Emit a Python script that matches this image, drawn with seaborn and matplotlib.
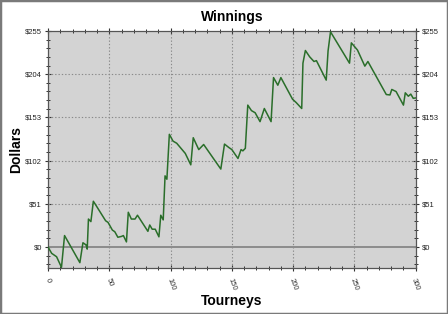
import matplotlib
matplotlib.use("Agg")
import matplotlib.pyplot as plt
from matplotlib.ticker import MultipleLocator, FixedLocator
from matplotlib.patches import Rectangle
import seaborn as sns
import pandas as pd

# ---- data ----
tourneys = [0, 3, 5, 7, 11, 13.5, 26, 28.5, 31, 32, 33, 35, 37, 39, 47, 49, 52.5,
            54.5, 57, 60, 61.5, 64, 65.5, 68, 71, 73, 81.5, 83, 85, 87.5, 90.5, 92,
            94, 95.5, 97, 99, 102, 105, 112, 116.5, 118.5, 123, 127, 141, 144,
            147.5, 150, 155, 157.5, 159, 161, 163, 166, 169, 173, 176.5, 182, 184,
            187.5, 190, 199.5, 202.5, 207, 208, 210, 213.5, 217, 219, 227, 228.5,
            230.5, 246, 247.5, 252.5, 258.5, 261, 276, 279, 280.5, 284, 290, 291.5,
            294, 296, 298, 300]
dollars = [0, -7.5, -9.5, -11.5, -24, 13.5, -18.5, 5, 2.5, -2.5, 33, 30, 54, 49.5,
           31, 29, 20, 18, 11.5, 12.5, 13.5, 6, 41, 33, 33, 37.5, 18.5, 26, 21, 21,
           12, 37.5, 32, 84, 80, 133, 125, 122.5, 110.5, 97, 129, 115, 121, 92,
           121.5, 117.5, 115, 104.5, 115, 113.5, 116.5, 167.5, 161, 158.5, 148,
           163.5, 148, 200, 191, 200, 174.5, 170.5, 163.5, 217, 232, 224.5, 219,
           220, 197, 231.5, 254, 217, 241, 232.5, 213.5, 219, 180, 179.5, 186,
           183.5, 167.5, 182, 178, 180.5, 175.5, 176]
x_ticks = [0, 50, 100, 150, 200, 250, 300]
y_ticks = [0, 51, 102, 153, 204, 255]
y_tick_labels = ["$0", "$51", "$102", "$153", "$204", "$255"]

df = pd.DataFrame({"Tourneys": tourneys, "Dollars": dollars})

sns.set_style("white")
plt.rcParams["font.family"] = ["Liberation Sans", "DejaVu Sans"]

fig = plt.figure(figsize=(4.48, 3.14), dpi=100)
fig.patch.set_facecolor("white")
ax = fig.add_axes([48 / 448, 1 - 268 / 314, (415.7 - 48) / 448, (268 - 31) / 314])
ax.set_facecolor("#d3d3d3")

sns.lineplot(data=df, x="Tourneys", y="Dollars", ax=ax, color="#2a6e2a",
             linewidth=1.1, zorder=5)

ax.set_xlim(0, 300)
ax.set_ylim(-24.8, 255)

# grid
for xv in x_ticks[1:-1]:
    ax.axvline(xv, color="#8a8a8a", linestyle=(0, (1.2, 1.8)), linewidth=0.8, zorder=1)
for yv in y_ticks[1:-1]:
    ax.axhline(yv, color="#8a8a8a", linestyle=(0, (1.2, 1.8)), linewidth=0.8, zorder=1)
ax.axhline(0, color="#8c8c8c", linewidth=1.4, zorder=2)

ax.xaxis.set_major_locator(FixedLocator(x_ticks))
ax.xaxis.set_minor_locator(MultipleLocator(10))
ax.yaxis.set_major_locator(FixedLocator(y_ticks))
ax.yaxis.set_minor_locator(MultipleLocator(10.2))
ax.set_xticklabels([str(v) for v in x_ticks], rotation=-70, fontsize=5.5,
                   color="#333333", ha="center", va="top")
ax.set_yticklabels(y_tick_labels, fontsize=5.5, color="#222222")

ax.tick_params(axis="both", which="major", direction="inout", length=5, width=0.8,
               color="#333333", pad=2, left=True, right=True, bottom=True, top=True,
               labelright=True)
ax.tick_params(axis="x", which="major", pad=4)
ax.tick_params(axis="both", which="minor", direction="inout", length=3, width=0.7,
               color="#333333", left=True, right=True, bottom=True, top=True)
for side in ["left", "bottom", "right", "top"]:
    ax.spines[side].set_visible(True)
    ax.spines[side].set_color("#555555")
    ax.spines[side].set_linewidth(0.9)

ax.set_title("Winnings", fontsize=10, fontweight="bold", pad=7, color="black")
ax.set_xlabel("Tourneys", fontsize=10, fontweight="bold", labelpad=2, color="black")
ax.set_ylabel("Dollars", fontsize=10, fontweight="bold", labelpad=1, color="black")

fig.patches.append(Rectangle((0, 0), 1, 1, transform=fig.transFigure, fill=False,
                             edgecolor="#7a7a7a", linewidth=2.5))

fig.savefig("out.png", dpi=100)
